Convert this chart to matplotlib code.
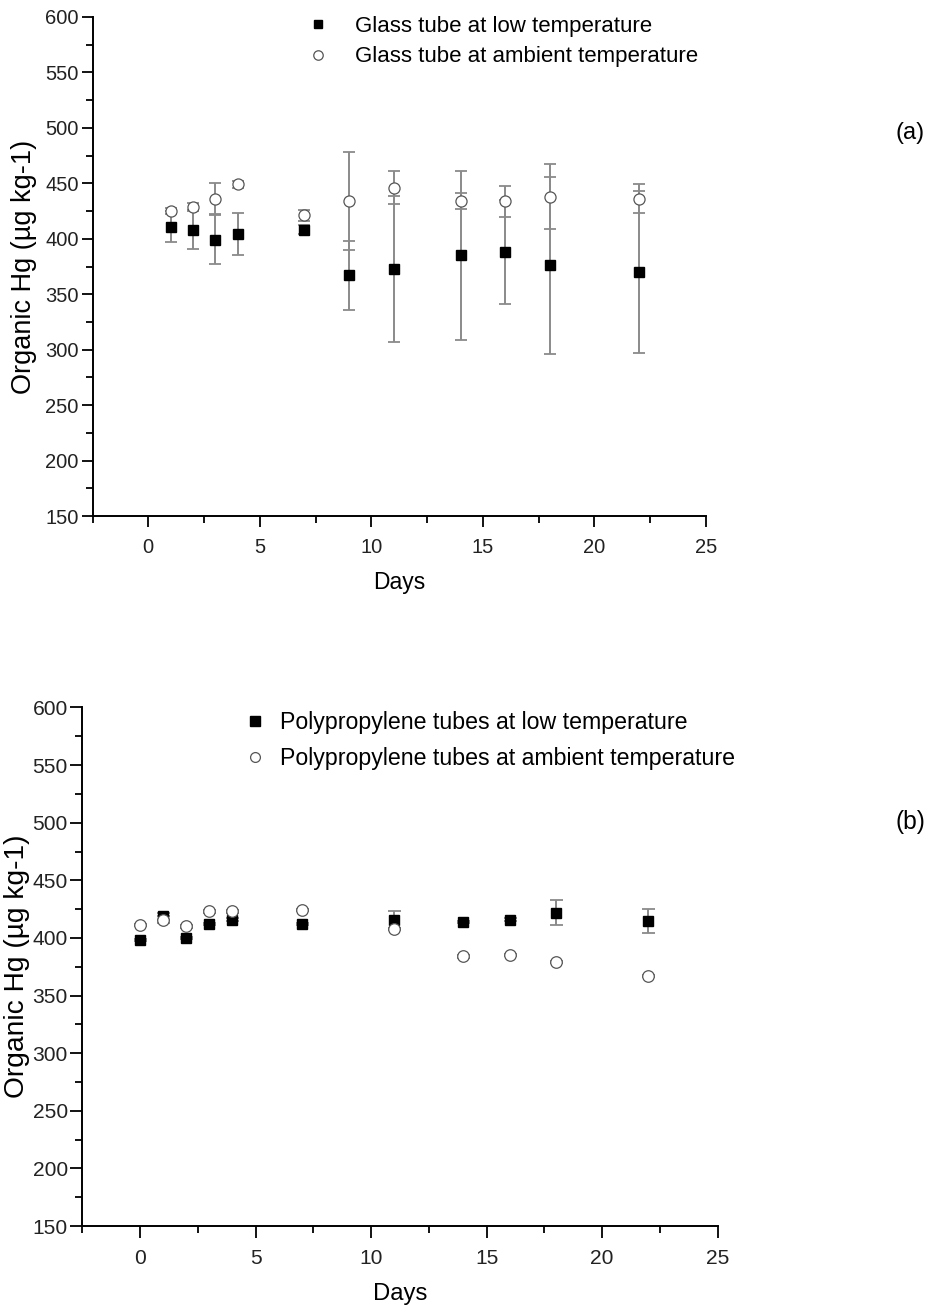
import matplotlib
matplotlib.use("Agg")
import matplotlib.pyplot as plt
from matplotlib.ticker import MultipleLocator

plt.rcParams['font.family'] = ['Liberation Sans', 'DejaVu Sans']

# ---- Panel (a): glass tubes ----
days_a = [1, 2, 3, 4, 7, 9, 11, 14, 16, 18, 22]
low_a = [411, 408, 399, 404, 408, 367, 373, 385, 388, 376, 370]
low_a_err = [14, 17, 22, 19, 4, 31, 66, 76, 47, 80, 73]
amb_a = [425, 429, 436, 449, 421, 434, 446, 434, 434, 438, 436]
amb_a_err = [3, 3, 14, 3, 5, 44, 15, 7, 14, 29, 13]
labels_a = ["Glass tube at low temperature", "Glass tube at ambient temperature"]

# ---- Panel (b): polypropylene tubes ----
days_b = [0, 1, 2, 3, 4, 7, 11, 14, 16, 18, 22]
low_b = [398, 419, 400, 412, 416, 412, 416, 414, 416, 422, 415]
low_b_err = [1, 3, 1, 1, 1, 1, 7, 1, 1, 10.5, 10.5]
amb_b = [411, 416, 410, 423, 423, 424, 408, 384, 385, 379, 367]
amb_b_err = [1, 3, 1, 1, 1, 1, 1, 1, 1, 1, 1]
labels_b = ["Polypropylene tubes at low temperature", "Polypropylene tubes at ambient temperature"]

yticks = [150, 200, 250, 300, 350, 400, 450, 500, 550, 600]
xticks = [0, 5, 10, 15, 20, 25]

W, H = 936, 1311
fig = plt.figure(figsize=(W / 100, H / 100), dpi=100)

def px(x0, y0, x1, y1):
    return [x0 / W, 1 - y1 / H, (x1 - x0) / W, (y1 - y0) / H]

ax1 = fig.add_axes(px(92.5, 17, 706, 516))
ax2 = fig.add_axes(px(82.3, 707.5, 717.6, 1226))

def draw(ax, days, low, low_err, amb, amb_err, labels, s, leg_xy, hl_pad, lsp,
         tag_xy, tag, ylpad):
    ecol = '#8a8a8a'
    ax.errorbar(days, low, yerr=low_err, fmt='none', ecolor=ecol, elinewidth=1.4,
                capsize=4.5 * s, capthick=1.3, zorder=2)
    ax.errorbar(days, amb, yerr=amb_err, fmt='none', ecolor=ecol, elinewidth=1.4,
                capsize=4.5 * s, capthick=1.3, zorder=2)
    h1, = ax.plot(days, low, linestyle='none', marker='s', markersize=7.4 * s,
                  markerfacecolor='black', markeredgecolor='black', zorder=3)
    h2, = ax.plot(days, amb, linestyle='none', marker='o', markersize=8.0 * s,
                  markerfacecolor='white', markeredgecolor='#555555',
                  markeredgewidth=0.9, zorder=4)
    ax.set_xlim(-2.5, 25)
    ax.set_ylim(150, 600)
    ax.set_xticks(xticks)
    ax.set_yticks(yticks)
    ax.xaxis.set_minor_locator(MultipleLocator(2.5))
    ax.yaxis.set_minor_locator(MultipleLocator(25))
    for sp in ['top', 'right']:
        ax.spines[sp].set_visible(False)
    for sp in ['left', 'bottom']:
        ax.spines[sp].set_linewidth(1.4)
    ax.tick_params(which='major', direction='out', length=8 * s, width=1.3,
                   labelsize=14.5 * s, color='black')
    ax.tick_params(which='minor', direction='out', length=5 * s, width=1.3)
    ax.tick_params(axis='x', which='major', pad=8 * s)
    ax.tick_params(axis='y', which='major', pad=2 * s)
    for t in ax.get_xticklabels() + ax.get_yticklabels():
        t.set_color('#222222')
    ax.set_xlabel('Days', fontsize=16.5 * s, labelpad=10 * s)
    ax.set_ylabel('Organic Hg (µg kg-1)', fontsize=19.5 * s, labelpad=ylpad)
    fs = 16 * s
    ax.legend([h1, h2], labels, loc='upper left',
              bbox_to_anchor=(leg_xy[0] / W, 1 - leg_xy[1] / H),
              bbox_transform=fig.transFigure, frameon=False, fontsize=fs,
              handlelength=1.0, handletextpad=hl_pad, labelspacing=lsp,
              borderpad=0, borderaxespad=0, markerscale=0.85, numpoints=1)
    fig.text(tag_xy[0] / W, 1 - tag_xy[1] / H, tag, fontsize=17 * s,
             ha='center', va='center')

draw(ax1, days_a, low_a, low_a_err, amb_a, amb_a_err, labels_a, 1.0,
     (307, 16), 1.17, 0.42, (910, 133), '(a)', 6)
draw(ax2, days_b, low_b, low_b_err, amb_b, amb_b_err, labels_b, 1.04,
     (243, 711), 0.58, 0.55, (910, 822), '(b)', 2)

fig.savefig('out.png', dpi=100)
